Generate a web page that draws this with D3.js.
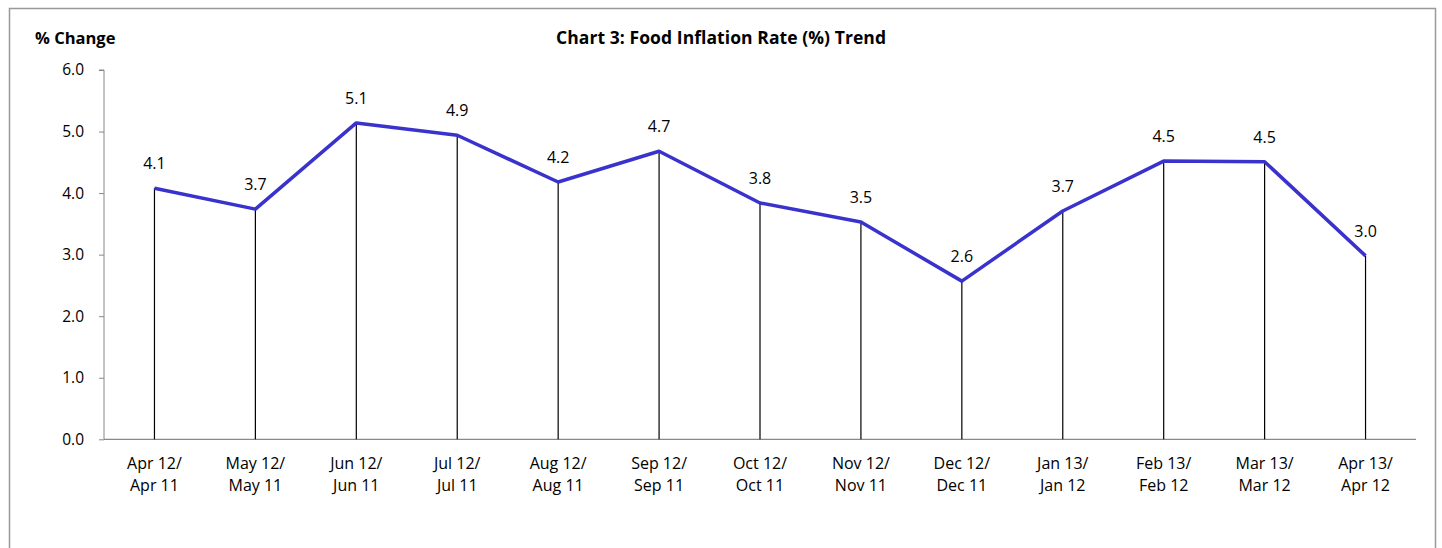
<!DOCTYPE html>
<html><head><meta charset="utf-8">
<script src="https://cdn.jsdelivr.net/npm/d3@7"></script>
<style>body{margin:0;background:#fff}svg{display:block}text{font-family:"Open Sans",sans-serif}</style>
</head><body><svg id="c" width="1442" height="548"></svg>
<script>
const categories1 = ["Apr 12/","May 12/","Jun 12/","Jul 12/","Aug 12/","Sep 12/","Oct 12/","Nov 12/","Dec 12/","Jan 13/","Feb 13/","Mar 13/","Apr 13/"];
const categories2 = ["Apr 11","May 11","Jun 11","Jul 11","Aug 11","Sep 11","Oct 11","Nov 11","Dec 11","Jan 12","Feb 12","Mar 12","Apr 12"];
const values = [4.08,3.74,5.14,4.94,4.18,4.68,3.84,3.53,2.57,3.71,4.52,4.51,2.98];
const yTicks = [0,1,2,3,4,5,6];
const title = "Chart 3: Food Inflation Rate (%) Trend";
const yTitle = "% Change";

const svg = d3.select("#c");
const m = {l:104, r:1416, t:70, b:439.3};
svg.append("rect").attr("x",9.5).attr("y",8.5).attr("width",1426).attr("height",560)
  .attr("fill","none").attr("stroke","#999").attr("stroke-width",1.5);

const x = d3.scaleBand().domain(d3.range(values.length)).range([m.l,m.r]);
const y = d3.scaleLinear().domain([0,6]).range([m.b,m.t]);

svg.append("text").attr("x",721).attr("y",44).attr("text-anchor","middle")
  .attr("font-weight","bold").attr("font-size",17.5).attr("textLength",330).text(title);
svg.append("text").attr("x",35).attr("y",44).attr("font-weight","bold").attr("font-size",16.5).text(yTitle);

// y axis
const ya = svg.append("g").attr("transform",`translate(${m.l},0)`)
  .call(d3.axisLeft(y).tickValues(yTicks).tickFormat(d3.format(".1f")).tickSize(5).tickPadding(15));
ya.select(".domain").attr("stroke","#888").attr("d",`M-5,${m.t}H0V${m.b}`);
ya.selectAll(".tick line").attr("stroke","#888");
ya.selectAll(".tick text").attr("font-size",15.5).attr("fill","#000").style("font-family","Open Sans");

// x axis line
svg.append("line").attr("x1",m.l).attr("x2",m.r).attr("y1",m.b).attr("y2",m.b).attr("stroke","#888").attr("stroke-width",1.3);

const cx = i => x(i)+x.bandwidth()/2;
// drop lines
svg.append("g").selectAll("line").data(values).join("line")
  .attr("x1",(d,i)=>cx(i)).attr("x2",(d,i)=>cx(i)).attr("y1",d=>y(d)).attr("y2",m.b)
  .attr("stroke","#000").attr("stroke-width",1.2);

svg.append("path").datum(values).attr("fill","none").attr("stroke","#3A32CC").attr("stroke-width",3.5)
  .attr("stroke-linejoin","round")
  .attr("d",d3.line().x((d,i)=>cx(i)).y(d=>y(d)));

svg.append("g").selectAll("text").data(values).join("text")
  .attr("x",(d,i)=>cx(i)).attr("y",d=>y(d)-19).attr("text-anchor","middle").attr("font-size",16)
  .text(d=>d3.format(".1f")(d));

const xl = svg.append("g").selectAll("text").data(categories1).join("text")
  .attr("x",(d,i)=>cx(i)).attr("y",469).attr("text-anchor","middle").attr("font-size",16);
xl.append("tspan").text(d=>d);
xl.append("tspan").attr("x",(d,i)=>cx(i)).attr("dy",22).text((d,i)=>categories2[i]);
</script></body></html>
